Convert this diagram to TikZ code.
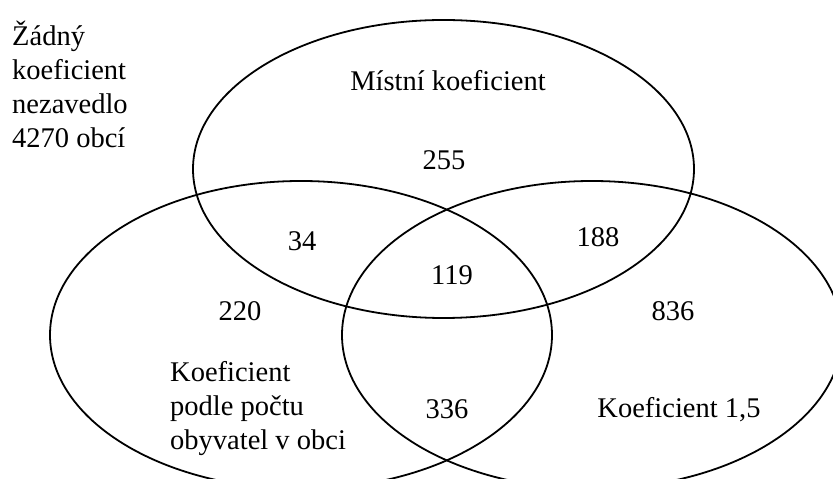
\documentclass[tikz,border=0pt]{standalone}
\usepackage{fontspec}
\setmainfont{Liberation Serif}
\begin{document}
\begin{tikzpicture}[x=1pt,y=1pt,
  lbl/.style={font=\fontsize{28.5}{34}\selectfont, inner sep=0pt},
  ring/.style={line width=1.8pt, black}]
\useasboundingbox (0,0) rectangle (833,479);
\begin{scope}
  \clip (0,0) rectangle (833,479);
  \draw[ring] (443.5,310) ellipse [x radius=250.5, y radius=149];
  \draw[ring] (301,144) ellipse [x radius=251, y radius=154];
  \draw[ring] (592,144) ellipse [x radius=250, y radius=154];
\end{scope}
\node[lbl, anchor=north west, align=left] (none) at (12,458) {Žádný\\koeficient\\nezavedlo\\4270 obcí};
\node[lbl, anchor=base] (mk) at (448,388) {Místní koeficient};
\node[lbl, anchor=base] (n255) at (444,309.4) {255};
\node[lbl, anchor=base] (n34) at (302,228.4) {34};
\node[lbl, anchor=base] (n188) at (598,232.4) {188};
\node[lbl, anchor=base] (n119) at (452,194) {119};
\node[lbl, anchor=base] (n220) at (240,158.4) {220};
\node[lbl, anchor=base] (n836) at (673,158.4) {836};
\node[lbl, anchor=north west, align=left] (kp) at (170,117.5) {Koeficient\\podle počtu\\obyvatel v obci};
\node[lbl, anchor=base] (n336) at (447,60) {336};
\node[lbl, anchor=base] (k15) at (679,61) {Koeficient 1,5};
\end{tikzpicture}
\end{document}
